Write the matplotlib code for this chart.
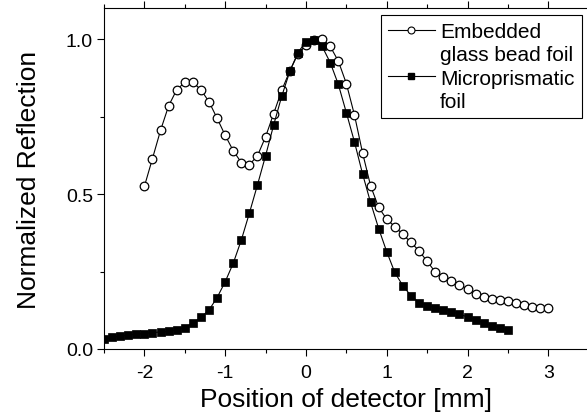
import numpy as np
import matplotlib
matplotlib.use("Agg")
import matplotlib.pyplot as plt
from matplotlib.lines import Line2D
from matplotlib.ticker import MultipleLocator

plt.rcParams['font.family'] = ['Liberation Sans', 'DejaVu Sans']
plt.rcParams['axes.unicode_minus'] = False

# Embedded glass bead foil (open circles)
bead_x = np.round(np.arange(-2.0, 3.01, 0.1), 2)
bead_y = [0.525, 0.615, 0.706, 0.785, 0.837, 0.861, 0.861, 0.837, 0.798, 0.745,
          0.690, 0.640, 0.602, 0.595, 0.624, 0.685, 0.760, 0.835, 0.898, 0.952,
          0.982, 0.998, 1.000, 0.977, 0.930, 0.857, 0.756, 0.634, 0.527, 0.457,
          0.419, 0.395, 0.370, 0.344, 0.317, 0.283, 0.249, 0.231, 0.220, 0.207,
          0.194, 0.177, 0.167, 0.161, 0.158, 0.154, 0.147, 0.142, 0.135, 0.132,
          0.132]

# Microprismatic foil (filled squares)
prism_x = np.round(np.arange(-2.5, 2.51, 0.1), 2)
prism_y = [0.032, 0.038, 0.041, 0.045, 0.048, 0.050, 0.053, 0.055, 0.057, 0.061,
           0.069, 0.083, 0.102, 0.126, 0.166, 0.217, 0.277, 0.352, 0.439, 0.530,
           0.624, 0.723, 0.816, 0.896, 0.957, 0.992, 0.999, 0.977, 0.925, 0.855,
           0.763, 0.669, 0.566, 0.473, 0.389, 0.314, 0.247, 0.204, 0.172, 0.150,
           0.140, 0.133, 0.127, 0.120, 0.113, 0.103, 0.094, 0.084, 0.075, 0.069,
           0.062]

fig = plt.figure(figsize=(5.87, 4.14), dpi=100)
ax = fig.add_axes([104 / 587, 1 - 350 / 414, (588.7 - 104) / 587, (350 - 9.3) / 414])

ax.plot(bead_x, bead_y, '-', color='k', lw=0.8, marker='o', ms=6.2,
        mfc='white', mec='k', mew=0.9)
ax.plot(prism_x, prism_y, '-', color='k', lw=0.8, marker='s', ms=5.4,
        mfc='k', mec='k', mew=0.5)

ax.set_xlim(-2.5, 3.5)
ax.set_ylim(0, 1.1)
ax.xaxis.set_major_locator(MultipleLocator(1))
ax.xaxis.set_minor_locator(MultipleLocator(0.5))
ax.yaxis.set_major_locator(MultipleLocator(0.5))
ax.yaxis.set_minor_locator(MultipleLocator(0.25))
ax.yaxis.set_major_formatter(matplotlib.ticker.FormatStrFormatter('%.1f'))
ax.tick_params(which='both', direction='out', top=True, right=True, width=0.8)
ax.tick_params(which='major', length=5, labelsize=14, pad=3)
ax.tick_params(axis='x', which='major', pad=6)
ax.tick_params(which='minor', length=3)
for s in ax.spines.values():
    s.set_linewidth(0.8)

ax.set_xlabel('Position of detector [mm]', fontsize=19, labelpad=4)
ax.set_ylabel('Normalized Reflection', fontsize=19, labelpad=18)

h_bead = Line2D([], [], color='k', lw=0.8, marker='o', ms=5, mfc='white', mec='k', mew=0.8)
h_prism = Line2D([], [], color='k', lw=0.8, marker='s', ms=4.5, mfc='k', mec='k')
blank = Line2D([], [], color='none')
leg = ax.legend([h_bead, blank, h_prism, blank],
                ['Embedded', 'glass bead foil', 'Microprismatic', 'foil'],
                loc='upper right', bbox_to_anchor=(581.7 / 587, 1 - 16 / 414),
                bbox_transform=fig.transFigure, borderaxespad=0,
                fontsize=15, frameon=True, fancybox=False, framealpha=1,
                edgecolor='k', handlelength=2.25, handletextpad=0.25,
                labelspacing=0.2, borderpad=0.35)
leg.get_frame().set_linewidth(0.8)

fig.savefig('out.png', dpi=100)
